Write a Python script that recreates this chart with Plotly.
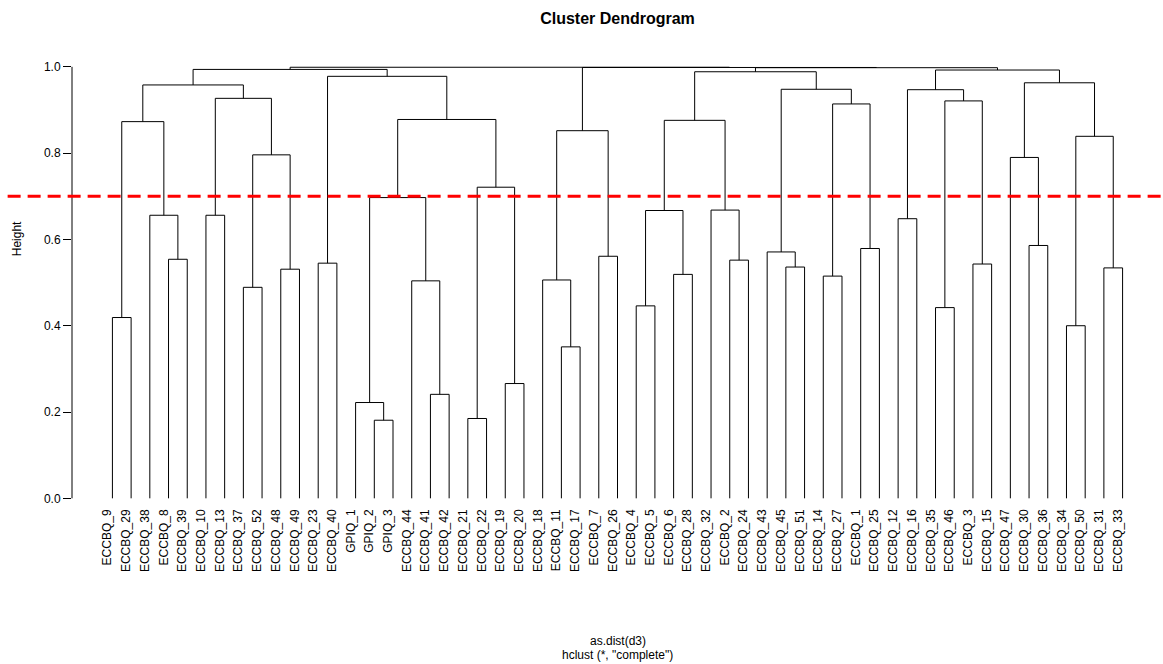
import plotly.graph_objects as go

# ---- data -------------------------------------------------------------
labels = [
    "ECCBQ_9", "ECCBQ_29", "ECCBQ_38", "ECCBQ_8", "ECCBQ_39", "ECCBQ_10", "ECCBQ_13",
    "ECCBQ_37", "ECCBQ_52", "ECCBQ_48", "ECCBQ_49", "ECCBQ_23", "ECCBQ_40", "GPIQ_1",
    "GPIQ_2", "GPIQ_3", "ECCBQ_44", "ECCBQ_41", "ECCBQ_42", "ECCBQ_21", "ECCBQ_22",
    "ECCBQ_19", "ECCBQ_20", "ECCBQ_18", "ECCBQ_11", "ECCBQ_17", "ECCBQ_7", "ECCBQ_26",
    "ECCBQ_4", "ECCBQ_5", "ECCBQ_6", "ECCBQ_28", "ECCBQ_32", "ECCBQ_2", "ECCBQ_24",
    "ECCBQ_43", "ECCBQ_45", "ECCBQ_51", "ECCBQ_14", "ECCBQ_27", "ECCBQ_1", "ECCBQ_25",
    "ECCBQ_12", "ECCBQ_16", "ECCBQ_35", "ECCBQ_46", "ECCBQ_3", "ECCBQ_15", "ECCBQ_47",
    "ECCBQ_30", "ECCBQ_36", "ECCBQ_34", "ECCBQ_50", "ECCBQ_31", "ECCBQ_33",
]

# R-style merge table: negative = leaf (position in label order), positive = earlier merge
merge_left = [-15, -20, -14, -18, -22, -25, -52, -1, -45, -29, -8, -17, -24, -39, -31,
              -10, -54, -37, -47, -12, -34, -4, -27, -36, -41, -50, -43, -3, -6, 10,
              -33, 3, 2, -49, 11, 7, 13, 8, 30, 32, 14, 9, 29, 27, 24, 38, 34, 20, 39,
              46, 44, 49, 37, 50]
merge_right = [-16, -21, 1, -19, -23, -26, -53, -2, -46, -30, -9, 4, 6, -40, -32,
               -11, -55, -38, -48, -13, -35, -5, -28, 18, -42, -51, -44, 22, -7, 15,
               21, 12, 5, 26, 16, 17, 23, 28, 31, 33, 25, 19, 35, 42, 41, 43, 36, 40, 45,
               48, 47, 51, 52, 53]
merge_height = [0.181, 0.185, 0.222, 0.241, 0.266, 0.351, 0.400, 0.419, 0.442, 0.446,
                 0.489, 0.504, 0.506, 0.515, 0.519, 0.531, 0.534, 0.536, 0.543, 0.545,
                 0.552, 0.554, 0.561, 0.571, 0.579, 0.586, 0.648, 0.656, 0.656, 0.667,
                 0.668, 0.697, 0.721, 0.790, 0.796, 0.839, 0.852, 0.873, 0.876, 0.878,
                 0.914, 0.921, 0.927, 0.947, 0.948, 0.958, 0.963, 0.978, 0.9886, 0.994,
                 0.9926, 0.998, 0.9985, 0.999]

y_ticks = [0.0, 0.2, 0.4, 0.6, 0.8, 1.0]
y_tick_text = ["0.0", "0.2", "0.4", "0.6", "0.8", "1.0"]
cut_height = 0.7

# ---- build dendrogram segments ---------------------------------------
leaf_x = list(range(1, len(labels) + 1))
node_x, node_y = [], []


def child(c):
    if c < 0:
        return leaf_x[-c - 1], 0.0
    return node_x[c - 1], node_y[c - 1]


xs, ys = [], []
for l, r, h in zip(merge_left, merge_right, merge_height):
    xl, yl = child(l)
    xr, yr = child(r)
    xs += [xl, xl, xr, xr, None]
    ys += [yl, h, h, yr, None]
    node_x.append((xl + xr) / 2)
    node_y.append(h)

FONT = "Liberation Sans, Arial, Helvetica, sans-serif"
LABEL_SHIFT = -0.26

fig = go.Figure()
fig.add_trace(go.Scatter(x=xs, y=ys, mode="lines",
                         line=dict(color="black", width=1),
                         hoverinfo="skip", showlegend=False))

fig.update_layout(
    width=1163, height=664,
    margin=dict(l=72, r=0, t=50, b=158),
    paper_bgcolor="white", plot_bgcolor="white",
    title=dict(text="<b>Cluster Dendrogram</b>", x=0.5, xref="paper",
               y=1 - 18 / 664, yref="container", yanchor="middle",
               font=dict(family=FONT, size=16, color="black")),
    xaxis=dict(range=[-1.16, 57.16], tickvals=[v + LABEL_SHIFT for v in leaf_x],
               ticktext=labels, tickangle=-90, ticks="", showline=False,
               showgrid=False, zeroline=False,
               tickfont=dict(family=FONT, size=12, color="black")),
    yaxis=dict(range=[-0.0178, 1.039], tickvals=y_ticks, ticktext=y_tick_text,
               ticks="outside", ticklen=8, tickcolor="black", tickwidth=1,
               showline=False, showgrid=False, zeroline=False,
               tickfont=dict(family=FONT, size=12, color="black")),
    shapes=[
        dict(type="line", xref="paper", yref="y", x0=0, x1=0,
             y0=min(y_ticks), y1=max(y_ticks), line=dict(color="black", width=1)),
        dict(type="line", xref="paper", yref="y", x0=-0.059, x1=1,
             y0=cut_height, y1=cut_height,
             line=dict(color="red", width=3, dash="13px,7px")),
    ],
    annotations=[
        dict(text="Height", xref="paper", yref="paper", x=-0.0504, y=0.585,
             textangle=-90, showarrow=False, xanchor="center", yanchor="middle",
             font=dict(family=FONT, size=12, color="black")),
        dict(text="as.dist(d3)", xref="paper", yref="paper", x=0.5, y=-0.296,
             showarrow=False, xanchor="center", yanchor="middle",
             font=dict(family=FONT, size=12, color="black")),
        dict(text='hclust (*, "complete")', xref="paper", yref="paper", x=0.5, y=-0.327,
             showarrow=False, xanchor="center", yanchor="middle",
             font=dict(family=FONT, size=12, color="black")),
    ],
)

fig.write_html("out.html", config={"displayModeBar": False},
               post_script="document.body.style.margin='0';")
